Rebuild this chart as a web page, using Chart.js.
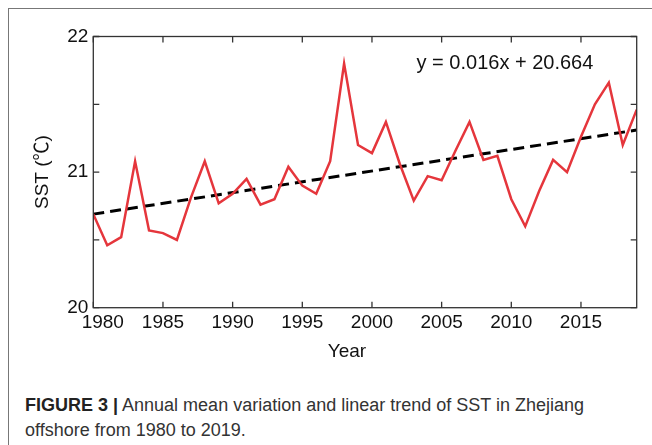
<!DOCTYPE html>
<html>
<head>
<meta charset="utf-8">
<script src="https://cdn.jsdelivr.net/npm/chart.js@4"></script>
<style>
  html, body { margin: 0; padding: 0; background: #fff; }
  body { width: 652px; height: 445px; position: relative; overflow: hidden; font-family: "Liberation Sans", Arial, sans-serif; }
  #frame { position: absolute; left: 8px; top: 8px; right: -2px; bottom: -2px; border-left: 1.5px solid #777; border-top: 1.5px solid #777; }
  #wrap { position: absolute; left: 0; top: 0; width: 652px; height: 375px; }
  #xtitle { position: absolute; left: 297px; width: 100px; top: 339px; text-align: center; font-size: 19px; line-height: 24px; color: #111; }
  #caption { position: absolute; left: 25px; top: 393px; width: 620px; font-size: 18px; line-height: 25px; color: #333; }
  #caption b { font-family: "Liberation Sans Narrow", "Liberation Sans", sans-serif; color: #222; }
</style>
</head>
<body>
<div id="frame"></div>
<div id="wrap"><canvas id="chart" width="652" height="375"></canvas></div>
<div id="xtitle">Year</div>
<div id="caption"><b>FIGURE 3 |</b> Annual mean variation and linear trend of SST in Zhejiang offshore from 1980 to 2019.</div>
<script>
// Annual mean SST, Zhejiang offshore
const years = [1980, 1981, 1982, 1983, 1984, 1985, 1986, 1987, 1988, 1989,
               1990, 1991, 1992, 1993, 1994, 1995, 1996, 1997, 1998, 1999,
               2000, 2001, 2002, 2003, 2004, 2005, 2006, 2007, 2008, 2009,
               2010, 2011, 2012, 2013, 2014, 2015, 2016, 2017, 2018, 2019];
const sst = [20.69, 20.46, 20.52, 21.08, 20.57, 20.55, 20.50, 20.81, 21.08, 20.77,
             20.84, 20.95, 20.76, 20.80, 21.04, 20.90, 20.84, 21.08, 21.80, 21.20,
             21.14, 21.37, 21.06, 20.79, 20.97, 20.94, 21.16, 21.37, 21.09, 21.12,
             20.80, 20.60, 20.86, 21.09, 21.00, 21.26, 21.50, 21.66, 21.20, 21.46];

// linear trend end points
const trendYears = [1980, 2019];
const trendValues = [20.69, 21.31];

const xTicks = [1980, 1985, 1990, 1995, 2000, 2005, 2010, 2015];
const yLabels = [20, 21, 22];
const equation = 'y = 0.016x + 20.664';

const FONT = '"Liberation Sans", "Noto Sans CJK SC", Arial, sans-serif';

// box around the plot with inward ticks on all four sides
const boxPlugin = {
    id: 'box',
    afterDatasetsDraw(chart) {
        const { ctx, chartArea: a, scales: { x, y } } = chart;
        const len = 6;
        ctx.save();
        ctx.strokeStyle = '#333';
        ctx.lineWidth = 1.3;
        ctx.strokeRect(a.left, a.top, a.right - a.left, a.bottom - a.top);
        ctx.beginPath();
        x.ticks.forEach(t => {
            const px = x.getPixelForValue(t.value);
            ctx.moveTo(px, a.bottom); ctx.lineTo(px, a.bottom - len);
            ctx.moveTo(px, a.top); ctx.lineTo(px, a.top + len);
        });
        y.ticks.forEach(t => {
            const py = y.getPixelForValue(t.value);
            ctx.moveTo(a.left, py); ctx.lineTo(a.left + len, py);
            ctx.moveTo(a.right, py); ctx.lineTo(a.right - len, py);
        });
        ctx.stroke();

        // trend equation
        ctx.fillStyle = '#111';
        ctx.font = '20px ' + FONT;
        ctx.textBaseline = 'middle';
        ctx.fillText(equation, x.getPixelForValue(2003.2), y.getPixelForValue(21.8));
        ctx.restore();
    }
};

new Chart(document.getElementById('chart'), {
    type: 'line',
    data: {
        datasets: [
            {
                data: years.map((yr, i) => ({ x: yr, y: sst[i] })),
                borderColor: '#e5363c',
                borderWidth: 2.5,
                pointRadius: 0,
                tension: 0
            },
            {
                data: trendYears.map((yr, i) => ({ x: yr, y: trendValues[i] })),
                borderColor: '#000',
                borderWidth: 3,
                borderDash: [11, 6],
                pointRadius: 0
            }
        ]
    },
    options: {
        responsive: false,
        animation: false,
        events: [],
        layout: { padding: { top: 36.5, right: 15.3, left: 0, bottom: 0 } },
        plugins: {
            legend: { display: false },
            tooltip: { enabled: false }
        },
        scales: {
            x: {
                type: 'linear',
                min: 1980,
                max: 2019,
                afterBuildTicks: s => { s.ticks = xTicks.map(v => ({ value: v })); },
                afterFit: s => { s.height = 67.3; },
                grid: { display: false, drawTicks: false },
                border: { display: false },
                ticks: {
                    color: '#111',
                    font: { family: FONT, size: 19 },
                    padding: 4,
                    maxRotation: 0,
                    // first label sits a little right of its tick in the original
                    callback: v => (v === 1980 ? '\u2002\u20021980' : String(v))
                }
            },
            y: {
                min: 20,
                max: 22,
                ticks: {
                    stepSize: 0.5,
                    color: '#111',
                    font: { family: FONT, size: 19 },
                    padding: 5,
                    callback: v => (yLabels.includes(v) ? String(v) : '')
                },
                afterFit: s => { s.width = 93.3; },
                grid: { display: false, drawTicks: false },
                border: { display: false },
                title: {
                    display: true,
                    text: 'SST (℃)',
                    color: '#111',
                    font: { family: FONT, size: 19 },
                    padding: { top: 31, bottom: 0 }
                }
            }
        }
    },
    plugins: [boxPlugin]
});
</script>
</body>
</html>
